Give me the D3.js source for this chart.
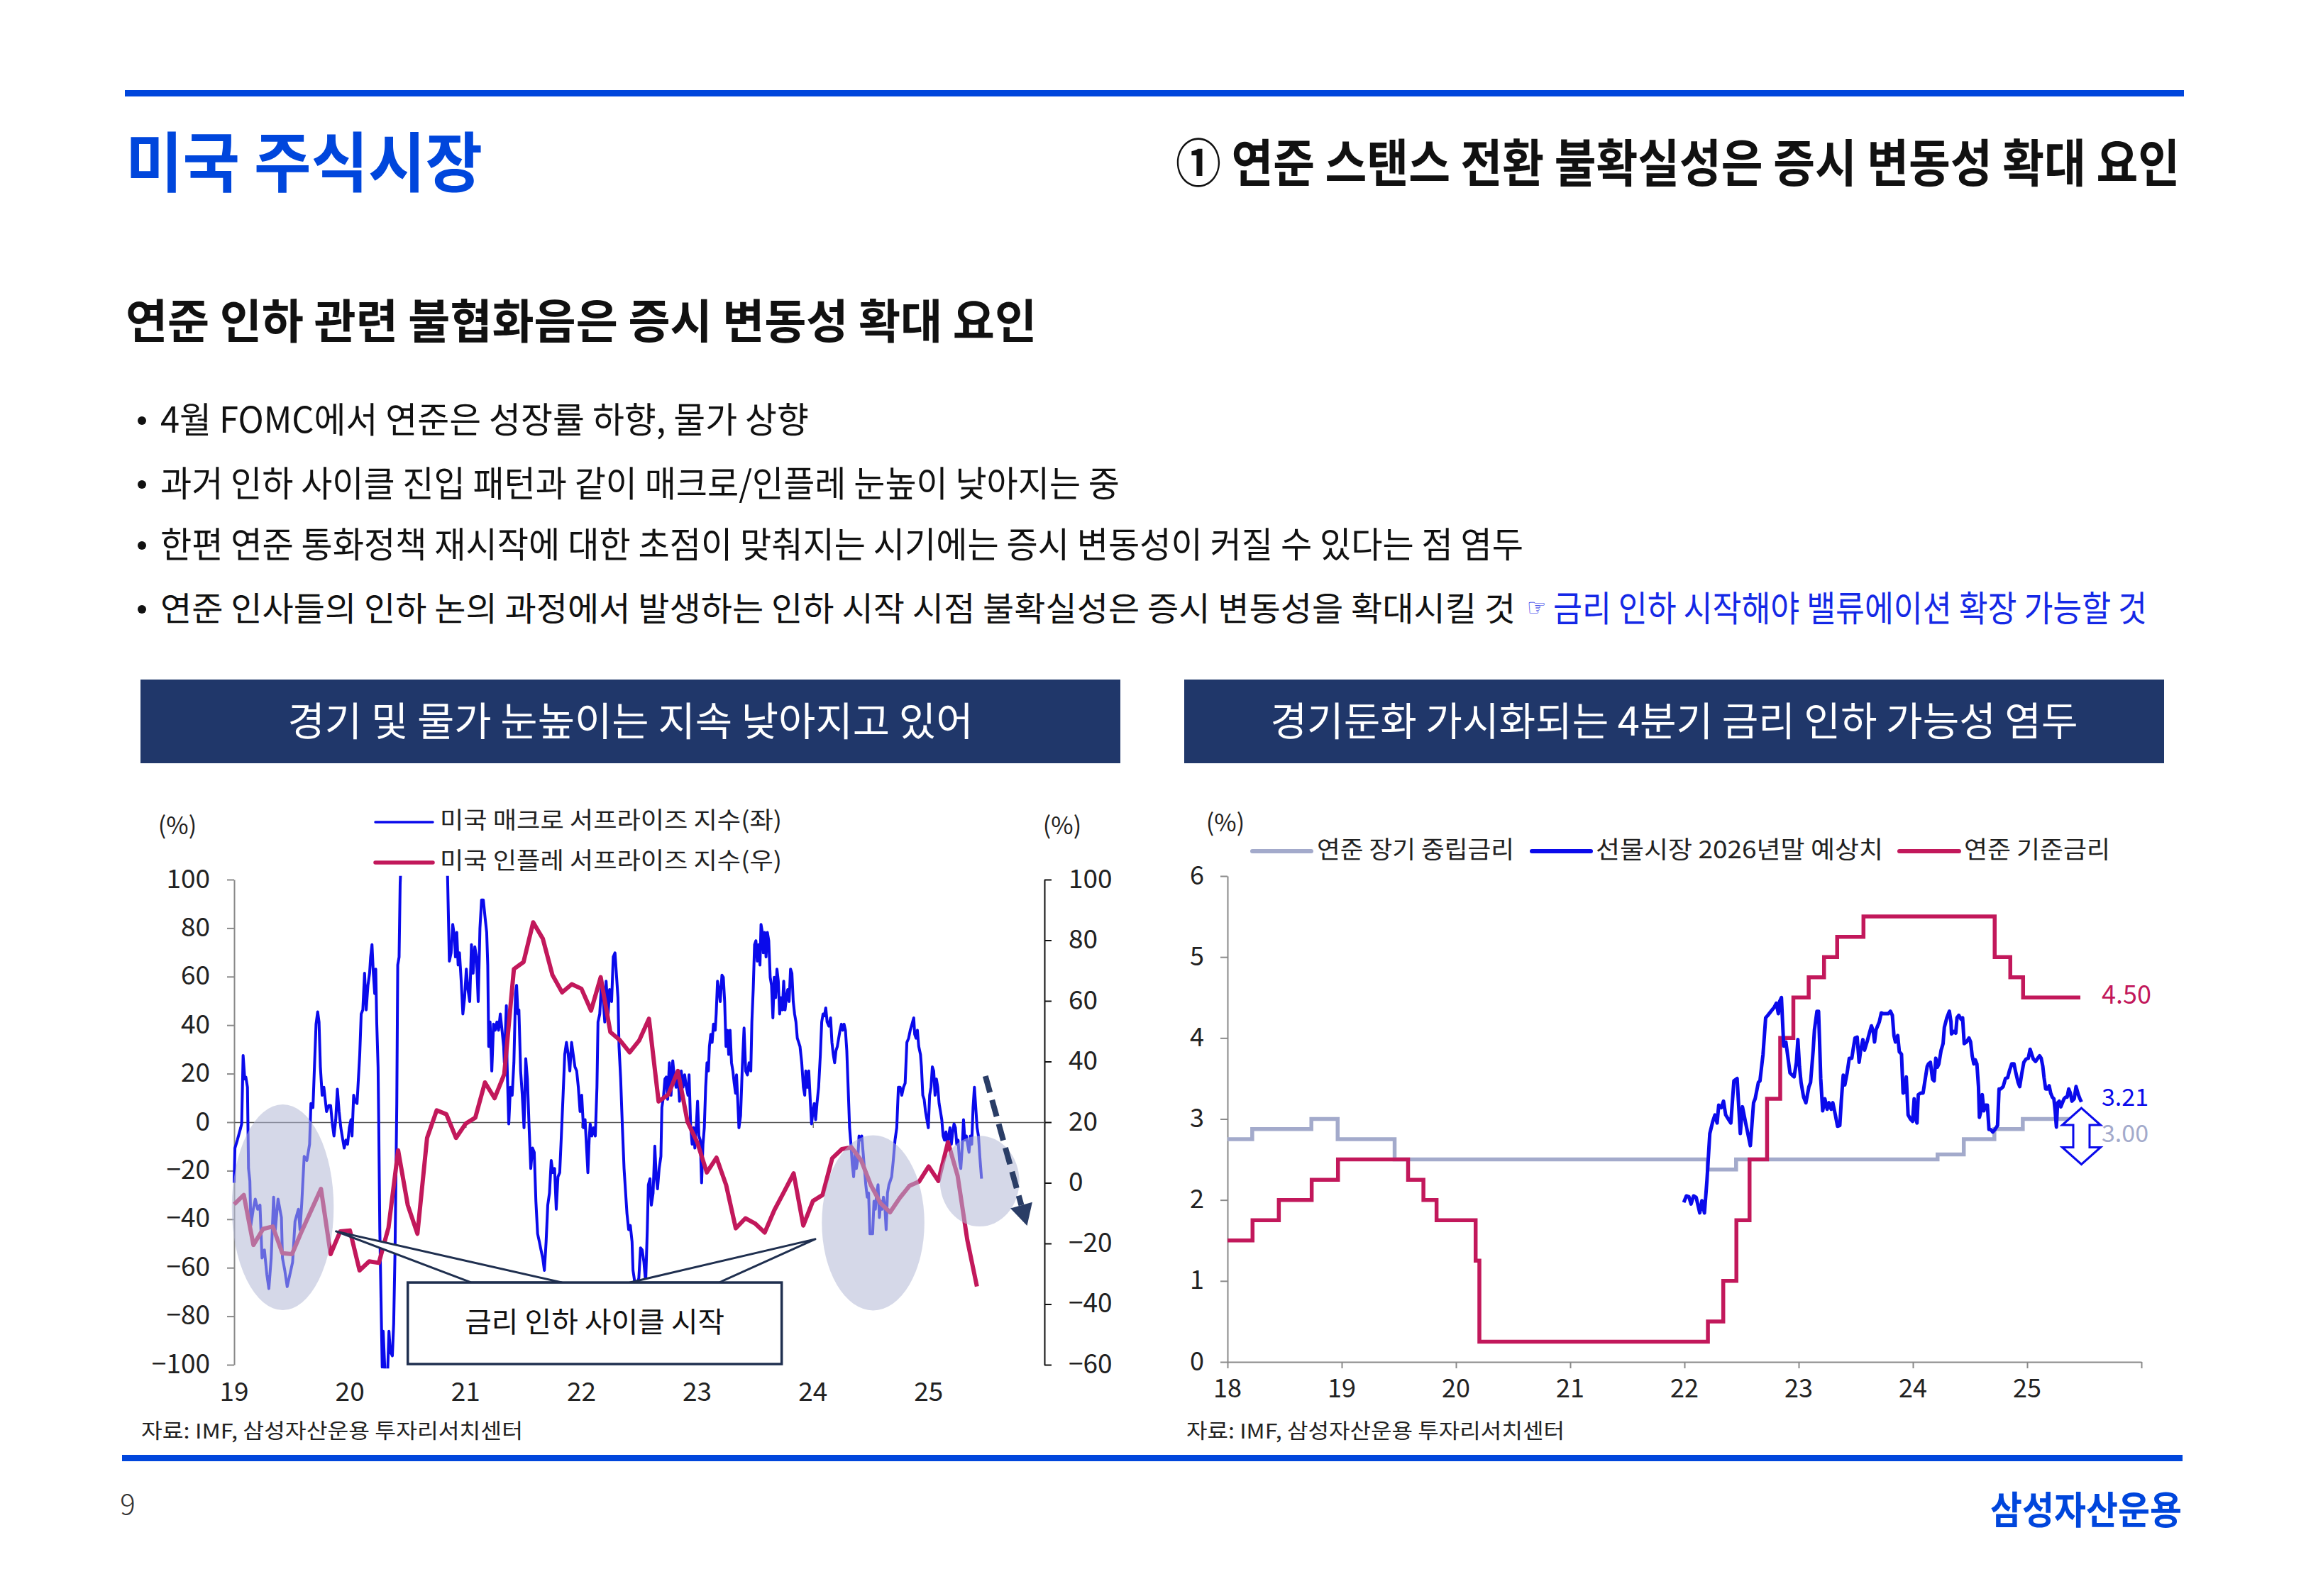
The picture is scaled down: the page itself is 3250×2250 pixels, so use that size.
<!DOCTYPE html>
<html><head><meta charset="utf-8">
<script src="https://cdn.jsdelivr.net/npm/d3@7"></script>
<style>body{margin:0;background:#fff}svg{display:block}</style>
</head><body>
<svg id="c" width="3250" height="2250"></svg>
<script>
// ===================== DATA =====================
// Chart 1 (left): surprise indices
const c1YearTicks = [2019, 2020, 2021, 2022, 2023, 2024, 2025];
const c1YearLabels = ["19", "20", "21", "22", "23", "24", "25"];
const c1LeftTicks = [100, 80, 60, 40, 20, 0, -20, -40, -60, -80, -100];
const c1RightTicks = [100, 80, 60, 40, 20, 0, -20, -40, -60];
// US inflation surprise index (right axis), monthly from Jan 2019
const inflationSurprise = [
  -7.1, -4, -20.5, -15.2, -14.4, -23.2, -23.5, -16, -9, -2, -23.5, -16,
  -15.7, -28.9, -25.9, -26.4, -14.8, 10.7, -7.4, -16.8, 14.8, 23.9, 22.6, 14.8,
  19.5, 21.5, 33.1, 27.9, 35.8, 70.5, 72.8, 85.9, 80.5, 68.5, 62.8, 65.5,
  64, 56.8, 67.8, 49.7, 47, 43, 47, 54.1, 26.8, 29.1, 36.9, 20.1,
  13.4, 3.4, 8.3, -0.7, -15, -11.7, -13.4, -16.4, -9, -3, 3.1, -14.1,
  -6, -4, 8.1, 11.1, 11.7, 7.4, -0.7, -6.7, -9.7, -5, -1, 0.4,
  5.4, 0.6, 13.4, 2.3, -18.8, -34.2
];
// US macro surprise index (left axis): [months since Jan 2019, value]
const macroSurprise = [
  [0,-25],[0.08,-10.7],[0.33,-7.4],[0.68,-2.3],[0.78,-0.7],[0.93,27.5],[1.1,17.8],[1.21,18.6],[1.38,14.4],[1.49,-19.1],
  [1.63,-24.2],[1.73,-42.6],[1.98,-35.9],[2.19,-31.7],[2.44,-35.9],[2.68,-34.2],[2.89,-56],[3.14,-52.7],[3.39,-62.8],[3.6,-68.6],
  [3.84,-56],[4.09,-30.9],[4.27,-44.3],[4.55,-31.7],[4.9,-39.3],[5.01,-56],[5.25,-61.1],[5.5,-67.8],[5.78,-62.8],[6.06,-57.7],
  [6.31,-40.9],[6.66,-35.9],[6.83,-44.3],[7.01,-33.4],[7.26,-14.1],[7.54,-15.8],[7.82,-9.1],[7.96,7.7],[8.17,6],[8.31,21.1],
  [8.49,40.4],[8.66,45.5],[8.8,41.3],[8.94,22.8],[9.12,11.1],[9.3,14.4],[9.58,4.4],[9.82,6.9],[10,6.9],[10.18,-0.7],
  [10.35,-5.7],[10.53,1],[10.7,13.6],[10.88,4.4],[11.06,-2.3],[11.23,-6.5],[11.41,-10.7],[11.58,-7.4],[11.76,-9.1],[11.94,-2.3],
  [12.11,1],[12.22,-5.7],[12.39,11.1],[12.53,8.6],[12.74,7.7],[12.88,17.8],[13.02,27.9],[13.17,44.6],[13.34,46.3],[13.52,61.4],
  [13.69,46.3],[13.87,56.4],[14.04,61.4],[14.15,68.1],[14.29,73.2],[14.43,61.4],[14.57,53],[14.68,63.1],[14.78,41.3],[14.92,22.8],
  [14.99,-0.7],[15.1,-44.3],[15.21,-69.5],[15.35,-101],[15.45,-86.2],[15.63,-103],[15.91,-103],[16.05,-86.2],[16.19,-94.6],[16.4,-96.3],
  [16.54,-82.9],[16.68,-52.7],[16.86,7.7],[16.96,64.8],[17.1,68.1],[17.21,98.3],[17.39,115],[17.6,140],[21.9,140],[22.14,98.3],
  [22.31,66.4],[22.49,69.8],[22.66,81.5],[22.84,76.5],[22.94,68.1],[23.08,78.2],[23.22,64.8],[23.36,69.8],[23.54,58.1],[23.71,44.6],
  [23.89,51.3],[24.07,63.1],[24.24,54.7],[24.42,49.7],[24.6,73.2],[24.77,61.4],[24.95,72.3],[25.12,68.1],[25.3,49.7],[25.48,79.9],
  [25.65,91.6],[25.83,91.6],[26,84.9],[26.18,78.2],[26.29,64.8],[26.39,31.2],[26.53,41.3],[26.71,21.1],[26.89,40.4],[27.06,37.9],
  [27.24,41.3],[27.41,37.9],[27.59,44.6],[27.77,37.9],[27.94,31.2],[28.01,24.5],[28.22,48],[28.29,24.5],[28.47,-0.7],[28.64,14.4],
  [28.82,11.1],[29,24.5],[29.17,53],[29.28,56.4],[29.42,44.6],[29.52,46.3],[29.7,21.1],[29.87,11.1],[30.05,-2.3],[30.23,26.2],
  [30.4,17.8],[30.58,-2.3],[30.75,-19.1],[30.93,-10.7],[31.11,-12.4],[31.28,-32.6],[31.46,-46],[31.64,-49.3],[31.81,-52.7],[31.99,-56],
  [32.16,-61.1],[32.34,-49.3],[32.51,-34.2],[32.69,-29.2],[32.87,-15.8],[33.04,-20.8],[33.22,-19.1],[33.39,-35.9],[33.57,-22.5],[33.75,-20.8],
  [33.92,-5.7],[34.1,11.1],[34.27,27.9],[34.45,32.9],[34.63,27.9],[34.8,21.1],[34.98,32.9],[35.15,27.9],[35.33,22.8],[35.51,21.1],
  [35.68,14.4],[35.86,4.4],[36.03,11.1],[36.21,-2.3],[36.38,1],[36.56,-12.4],[36.67,-20.8],[36.8,-7.4],[36.91,-0.7],[37.08,-5.7],
  [37.26,-2.3],[37.44,-5.7],[37.61,14.4],[37.72,41.3],[37.9,44.6],[38.07,56.4],[38.25,51.3],[38.42,41.3],[38.56,58.1],[38.77,44.6],
  [38.92,54.7],[39.13,49.7],[39.3,68.1],[39.48,69.8],[39.65,59.7],[39.79,51.3],[39.9,31.2],[40.07,17.8],[40.25,-2.3],[40.42,-19.1],
  [40.72,-37.6],[40.9,-44.3],[41.07,-42.6],[41.25,-49.3],[41.35,-61.1],[41.6,-67.8],[41.95,-64.4],[42.13,-51.8],[42.3,-52.7],[42.48,-57.7],
  [42.66,-66.1],[42.83,-44.3],[42.94,-25.8],[43.11,-23.3],[43.25,-34.2],[43.43,-29.2],[43.61,-9.9],[43.75,-22.5],[43.89,-27.5],[44.06,-19.1],
  [44.24,-14.1],[44.34,6],[44.52,11.1],[44.66,17.8],[44.8,18.6],[44.94,9.4],[45.12,24.5],[45.29,11.1],[45.47,25.3],[45.65,17.8],
  [45.82,14.4],[46,20.3],[46.17,8.6],[46.35,21.1],[46.53,14.4],[46.7,19.5],[46.88,14.4],[47.05,11.1],[47.16,19.5],[47.33,-2.3],
  [47.48,-9.1],[47.62,-2.3],[47.76,-10.7],[47.9,-2.3],[48.04,8.6],[48.18,-5.7],[48.32,-7.4],[48.46,-25],[48.6,-9.1],[48.74,-2.3],
  [48.88,14.4],[49.02,24.5],[49.16,21.1],[49.27,31.2],[49.41,36.2],[49.55,32.9],[49.69,40.4],[49.87,37.9],[49.97,44.6],[50.11,58.1],
  [50.25,54.7],[50.39,49.7],[50.57,60.6],[50.71,59.7],[50.85,49.7],[50.99,31.2],[51.13,37.9],[51.27,27.9],[51.41,37.9],[51.56,24.5],
  [51.7,21.1],[51.84,16.1],[51.98,11.9],[52.08,19.5],[52.22,7.7],[52.33,-2.3],[52.5,2.7],[52.68,22.8],[52.86,38.8],[53.03,21.1],
  [53.21,19.5],[53.38,24.5],[53.56,21.1],[53.67,41.3],[53.81,54.7],[53.95,73.2],[54.09,74.8],[54.23,66.4],[54.37,73.2],[54.51,64.8],
  [54.62,81.5],[54.76,78.2],[54.86,69.8],[55,78.2],[55.14,68.1],[55.28,78.2],[55.42,74.8],[55.57,59.7],[55.71,56.4],[55.85,43],
  [55.99,59.7],[56.13,51.3],[56.27,63.1],[56.41,58.1],[56.55,44.6],[56.69,51.3],[56.83,46.3],[56.97,58.1],[57.11,46.3],[57.25,51.3],
  [57.39,54.7],[57.53,49.7],[57.68,63.1],[57.82,61.4],[57.96,49.7],[58.1,44.6],[58.24,41.3],[58.38,34.6],[58.52,32.9],[58.66,31.2],
  [58.84,24.5],[59.01,14.4],[59.15,11.1],[59.26,21.1],[59.43,14.4],[59.57,21.1],[59.72,9.4],[59.86,-0.7],[60,4.4],[60.14,7.7],
  [60.28,1],[60.42,7.7],[60.59,14.4],[60.77,27.9],[60.91,41.3],[61.05,44.6],[61.19,43.8],[61.33,47.1],[61.47,41.3],[61.65,39.6],
  [61.83,43],[61.97,32.9],[62.11,27.9],[62.25,24.5],[62.39,29.5],[62.53,31.2],[62.67,34.6],[62.81,37.9],[62.95,40.4],[63.09,37.9],
  [63.23,40.4],[63.37,37.9],[63.51,29.5],[63.65,14.4],[63.8,-2.3],[63.94,-9.1],[64.08,-17.4],[64.22,-22.5],[64.36,-12.4],[64.5,-19.1],
  [64.64,-15.8],[64.78,-5.7],[64.92,-7.4],[65.06,-5.7],[65.2,-12.4],[65.34,-19.1],[65.48,-25.8],[65.63,-30.9],[65.77,-29.2],[65.91,-46],
  [66.05,-46],[66.19,-46],[66.33,-32.6],[66.47,-35.9],[66.61,-29.2],[66.75,-25.8],[66.89,-39.3],[67.03,-32.6],[67.17,-35.9],[67.31,-30.9],
  [67.45,-34.2],[67.59,-44.3],[67.73,-29.2],[67.88,-25.8],[68.02,-24.2],[68.16,-22.5],[68.33,-15.8],[68.51,-7.4],[68.69,-2.3],[68.86,14.4],
  [69.04,14.4],[69.21,11.1],[69.39,14.4],[69.56,16.1],[69.74,32.9],[69.92,34.6],[70.09,37.9],[70.27,40.4],[70.45,43],[70.55,36.2],
  [70.69,34.6],[70.83,37.9],[70.97,31.2],[71.15,27.9],[71.25,22.8],[71.39,11.1],[71.53,9.4],[71.67,4.4],[71.82,1],[71.96,-2.3],
  [72.1,11.1],[72.24,14.4],[72.38,22.8],[72.52,21.1],[72.66,11.1],[72.8,17.8],[72.94,14.4],[73.08,7.7],[73.22,4.4],[73.36,1],
  [73.5,-5.7],[73.64,-7.4],[73.79,-4],[73.93,-9.1],[74.07,-5.7],[74.21,-2.3],[74.35,-9.1],[74.49,-4],[74.63,-0.7],[74.77,-2.3],
  [74.91,-9.1],[75.05,-7.4],[75.19,-15.8],[75.33,-19.1],[75.47,-10.7],[75.61,1],[75.75,-7.4],[75.9,-5.7],[76.04,-9.1],[76.18,-12.4],
  [76.32,-5.7],[76.46,-9.1],[76.6,6],[76.74,14.4],[76.88,6],[77.02,-2.3],[77.16,-5.7],[77.3,-14.1],[77.48,-23.3]
];

// Chart 2 (right): policy rates
const c2YearTicks = [2018, 2019, 2020, 2021, 2022, 2023, 2024, 2025, 2026];
const c2YearLabels = ["18", "19", "20", "21", "22", "23", "24", "25"];
const c2YTicks = [0, 1, 2, 3, 4, 5, 6];
// Fed longer-run neutral rate (step changes)
const neutralRate = [
  ["2018-01-01",2.75],["2018-03-21",2.875],["2018-09-26",3.0],["2018-12-19",2.75],["2019-06-19",2.5],
  ["2022-03-16",2.375],["2022-06-15",2.5],["2024-03-20",2.5625],["2024-06-12",2.75],["2024-09-18",2.875],
  ["2024-12-18",3.0],["2025-06-20",3.0]
];
// Fed funds target rate (upper bound, step changes)
const fedFunds = [
  ["2018-01-01",1.5],["2018-03-22",1.75],["2018-06-14",2.0],["2018-09-27",2.25],["2018-12-20",2.5],
  ["2019-08-01",2.25],["2019-09-19",2.0],["2019-10-31",1.75],["2020-03-04",1.25],["2020-03-16",0.25],
  ["2022-03-17",0.5],["2022-05-05",1.0],["2022-06-16",1.75],["2022-07-28",2.5],["2022-09-22",3.25],
  ["2022-11-03",4.0],["2022-12-15",4.5],["2023-02-02",4.75],["2023-03-23",5.0],["2023-05-04",5.25],
  ["2023-07-27",5.5],["2024-09-19",5.0],["2024-11-08",4.75],["2024-12-19",4.5],["2025-06-20",4.5]
];
// Futures-implied rate for end-2026: [decimal year, value]
const futures2026 = [
  [2021.994,1.97],[2022.017,2.05],[2022.039,2.04],[2022.058,1.95],[2022.08,2.05],[2022.103,2.03],[2022.134,1.84],[2022.153,1.99],
  [2022.175,1.84],[2022.197,2.24],[2022.222,2.82],[2022.248,2.97],[2022.267,3.05],[2022.286,2.95],[2022.3,3.17],[2022.322,3.14],
  [2022.342,3.22],[2022.361,3.05],[2022.383,3.0],[2022.406,2.95],[2022.433,3.47],[2022.461,3.5],[2022.489,2.82],[2022.508,3.15],
  [2022.536,2.95],[2022.577,2.67],[2022.605,3.2],[2022.619,3.25],[2022.647,3.45],[2022.661,3.47],[2022.688,3.8],[2022.711,4.25],
  [2022.73,4.28],[2022.758,4.33],[2022.786,4.38],[2022.805,4.43],[2022.822,4.3],[2022.833,4.45],[2022.849,4.5],[2022.869,3.9],
  [2022.888,3.95],[2022.924,3.57],[2022.944,3.54],[2022.96,3.52],[2022.98,3.7],[2022.993,3.98],[2023.007,3.65],[2023.021,3.45],
  [2023.043,3.27],[2023.063,3.2],[2023.09,3.4],[2023.104,3.45],[2023.127,3.85],[2023.138,4.1],[2023.16,4.33],[2023.174,4.33],
  [2023.182,4.0],[2023.193,3.5],[2023.21,3.1],[2023.229,3.25],[2023.249,3.12],[2023.265,3.2],[2023.285,3.12],[2023.299,3.2],
  [2023.321,3.05],[2023.34,2.91],[2023.36,2.92],[2023.373,3.22],[2023.39,3.54],[2023.404,3.42],[2023.423,3.56],[2023.443,3.75],
  [2023.465,3.75],[2023.479,3.88],[2023.493,4.0],[2023.512,4.01],[2023.529,3.7],[2023.543,3.85],[2023.562,3.98],[2023.576,3.85],
  [2023.598,3.95],[2023.617,4.05],[2023.637,4.15],[2023.653,4.08],[2023.664,3.95],[2023.677,4.1],[2023.706,4.2],[2023.723,4.31],
  [2023.742,4.3],[2023.764,4.3],[2023.784,4.3],[2023.803,4.33],[2023.82,4.28],[2023.834,4.03],[2023.847,3.95],[2023.867,4.03],
  [2023.881,3.83],[2023.9,3.8],[2023.914,3.32],[2023.931,3.34],[2023.942,3.52],[2023.958,3.05],[2023.978,3.0],[2023.997,2.97],
  [2024.011,3.25],[2024.025,3.0],[2024.036,2.95],[2024.047,3.3],[2024.069,3.32],[2024.089,3.32],[2024.103,3.45],[2024.125,3.65],
  [2024.136,3.68],[2024.153,3.7],[2024.172,3.49],[2024.186,3.47],[2024.2,3.75],[2024.214,3.64],[2024.227,3.68],[2024.247,3.85],
  [2024.264,3.93],[2024.275,4.13],[2024.297,4.25],[2024.319,4.33],[2024.333,4.2],[2024.338,4.05],[2024.358,4.08],[2024.375,4.06],
  [2024.386,4.25],[2024.402,4.28],[2024.422,4.23],[2024.435,4.25],[2024.449,3.93],[2024.469,3.95],[2024.491,4.0],[2024.505,3.95],
  [2024.519,3.78],[2024.533,3.68],[2024.546,3.73],[2024.56,3.68],[2024.574,3.4],[2024.582,3.02],[2024.596,3.1],[2024.607,3.3],
  [2024.621,3.1],[2024.635,3.17],[2024.652,3.17],[2024.666,2.87],[2024.68,2.87],[2024.699,2.84],[2024.718,2.87],[2024.741,2.92],
  [2024.754,3.37],[2024.768,3.37],[2024.79,3.4],[2024.81,3.5],[2024.829,3.51],[2024.846,3.6],[2024.865,3.68],[2024.885,3.68],
  [2024.901,3.57],[2024.921,3.45],[2024.935,3.4],[2024.954,3.57],[2024.971,3.7],[2024.99,3.74],[2025.01,3.75],[2025.026,3.86],
  [2025.04,3.8],[2025.054,3.74],[2025.073,3.71],[2025.093,3.75],[2025.109,3.78],[2025.123,3.75],[2025.137,3.65],[2025.148,3.51],
  [2025.162,3.37],[2025.179,3.37],[2025.193,3.41],[2025.206,3.32],[2025.22,3.27],[2025.234,3.25],[2025.245,3.1],[2025.256,2.9],
  [2025.267,3.2],[2025.281,3.22],[2025.295,3.15],[2025.309,3.2],[2025.323,3.25],[2025.337,3.27],[2025.35,3.27],[2025.364,3.37],
  [2025.378,3.32],[2025.392,3.22],[2025.412,3.25],[2025.428,3.4],[2025.448,3.3],[2025.462,3.25],[2025.475,3.21]
];
const endLabels = ["4.50", "3.21", "3.00"];

// ===================== DRAW =====================
const svg = d3.select("#c");
const FONT = '"Noto Sans CJK KR","Noto Sans",sans-serif';
const BLUE = "#0A0AEB", RED = "#C2185B", GRAY = "#A3AACB", NAVY = "#20376A", BRAND = "#0046DC";
const DY = -5; // optical correction for central baseline

function T(x, y, s, o = {}) {
  const size = o.size || 36;
  const t = svg.append("text").attr("x", x).attr("y", y + DY)
    .attr("dominant-baseline", "central")
    .attr("font-family", o.family || FONT)
    .attr("font-size", size)
    .attr("font-weight", o.weight || 400)
    .attr("fill", o.fill || "#111")
    .attr("text-anchor", o.anchor || "start")
    .text(s);
  if (o.len) {
    if (o.fit) { // shrink font so the natural width never exceeds the target box
      const n = t.node().getComputedTextLength();
      if (n > o.len) t.attr("font-size", size * o.len / n * 0.98);
    }
    t.attr("textLength", o.len).attr("lengthAdjust", "spacingAndGlyphs");
  }
  return t;
}
const decYear = s => { const d = new Date(s + "T00:00:00Z"); const y = d.getUTCFullYear();
  const a = Date.UTC(y,0,1), b = Date.UTC(y+1,0,1); return y + (d - a) / (b - a); };
const fmtMinus = d => d < 0 ? "\u2212" + Math.abs(d) : String(d);

// ---- Page header ----
svg.append("rect").attr("x", 176).attr("y", 127).attr("width", 2902).attr("height", 9).attr("fill", BRAND);
T(177, 227, "미국 주식시장", {size: 92, weight: 700, fill: BRAND, len: 503});
T(1657, 229, "① 연준 스탠스 전환 불확실성은 증시 변동성 확대 요인", {size: 72, weight: 700, fill: "#111", len: 1415});
T(177, 453, "연준 인하 관련 불협화음은 증시 변동성 확대 요인", {size: 66, weight: 700, fill: "#111", len: 1284});

const bulletY = [593, 683, 769, 859];
const bulletText = [
  "4월 FOMC에서 연준은 성장률 하향, 물가 상향",
  "과거 인하 사이클 진입 패턴과 같이 매크로/인플레 눈높이 낮아지는 중",
  "한편 연준 통화정책 재시작에 대한 초점이 맞춰지는 시기에는 증시 변동성이 커질 수 있다는 점 염두",
  "연준 인사들의 인하 논의 과정에서 발생하는 인하 시작 시점 불확실성은 증시 변동성을 확대시킬 것"
];
const bulletLen = [914, 1352, 1921, 1910];
bulletY.forEach((y, i) => {
  svg.append("circle").attr("cx", 200).attr("cy", y).attr("r", 6).attr("fill", "#111");
  T(226, y, bulletText[i], {size: 50, fill: "#111", len: bulletLen[i], fit: i === 3});
});
{
  const t = T(2152, bulletY[3], "", {size: 50, fill: "#1428E6"});
  t.append("tspan").attr("font-family", '"DejaVu Sans",sans-serif').attr("font-size", 34).attr("dy", 2).text("☞");
  t.append("tspan").attr("dy", -2).text(" 금리 인하 시작해야 밸류에이션 확장 가능할 것");
  t.attr("textLength", 874).attr("lengthAdjust", "spacingAndGlyphs");
}

// Chart header boxes
svg.append("rect").attr("x", 198).attr("y", 958).attr("width", 1381).attr("height", 118).attr("fill", NAVY);
svg.append("rect").attr("x", 1669).attr("y", 958).attr("width", 1381).attr("height", 118).attr("fill", NAVY);
T(888.5 - 483, 1017, "경기 및 물가 눈높이는 지속 낮아지고 있어", {size: 56, fill: "#fff", len: 966});
T(2359.5 - 569, 1017, "경기둔화 가시화되는 4분기 금리 인하 가능성 염두", {size: 56, fill: "#fff", len: 1138});

// Footer
T(199, 2020, "자료: IMF, 삼성자산운용 투자리서치센터", {size: 29, fill: "#222", len: 538});
T(1672, 2020, "자료: IMF, 삼성자산운용 투자리서치센터", {size: 29, fill: "#222", len: 533});
svg.append("rect").attr("x", 172).attr("y", 2051).attr("width", 2904).attr("height", 9).attr("fill", BRAND);
T(180, 2123, "9", {size: 40, weight: 300, anchor: "middle", fill: "#333"});
T(2805, 2130, "삼성자산운용", {size: 54, weight: 700, fill: BRAND, len: 270});

// ===================== CHART 1 =====================
const x1 = d3.scaleLinear().domain([2019, 2026]).range([330, 1472]);
const yL = d3.scaleLinear().domain([-100, 100]).range([1924, 1240]);
const yR = d3.scaleLinear().domain([-60, 100]).range([1924, 1240]);

function styleAxis(g, color, size) {
  g.select(".domain").attr("stroke", color).attr("stroke-width", 2);
  g.selectAll(".tick line").attr("stroke", color).attr("stroke-width", 2);
  g.selectAll(".tick text").attr("font-size", size).attr("font-family", FONT).attr("fill", "#222")
    .attr("dy", DY).attr("dominant-baseline", "central");
}
const gL = svg.append("g").attr("transform", `translate(${x1(2019)},0)`)
  .call(d3.axisLeft(yL).tickValues(c1LeftTicks).tickSize(10).tickSizeOuter(0).tickPadding(24).tickFormat(fmtMinus));
styleAxis(gL, "#8a8a8a", 37);
const gR = svg.append("g").attr("transform", `translate(${x1(2026)},0)`)
  .call(d3.axisRight(yR).tickValues(c1RightTicks).tickSize(10).tickSizeOuter(0).tickPadding(24).tickFormat(fmtMinus));
styleAxis(gR, "#111", 37);
const gZ = svg.append("g").attr("transform", `translate(0,${yL(0)})`)
  .call(d3.axisBottom(x1).tickValues(c1YearTicks.slice(1)).tickSize(8).tickSizeOuter(0).tickFormat(""));
gZ.select(".domain").attr("stroke", "#555").attr("stroke-width", 1.5);
gZ.selectAll(".tick line").attr("stroke", "#777").attr("stroke-width", 1.5);
c1YearTicks.forEach((yr, i) => T(x1(yr), 1964, c1YearLabels[i], {size: 37, anchor: "middle", fill: "#222"}));
T(250, 1166, "(%)", {size: 34, anchor: "middle", fill: "#222"});
T(1497, 1166, "(%)", {size: 34, anchor: "middle", fill: "#222"});

svg.append("clipPath").attr("id", "clip1").append("rect")
  .attr("x", 320).attr("y", yL(101.5)).attr("width", 1160).attr("height", yL(-101.5) - yL(101.5));
svg.append("path").datum(macroSurprise)
  .attr("clip-path", "url(#clip1)")
  .attr("d", d3.line().x(d => x1(2019 + d[0] / 12)).y(d => yL(d[1])))
  .attr("fill", "none").attr("stroke", BLUE).attr("stroke-width", 4).attr("stroke-linejoin", "round");
svg.append("path").datum(inflationSurprise)
  .attr("d", d3.line().x((d, i) => x1(2019 + i / 12)).y(d => yR(d)))
  .attr("fill", "none").attr("stroke", RED).attr("stroke-width", 6).attr("stroke-linejoin", "round");

// highlight ellipses (in data units)
const ellipses = [[2019.42, -35.1, 0.44, 42.4], [2024.52, -41.5, 0.443, 36.1], [2025.44, -24.3, 0.343, 18.7]];
ellipses.forEach(e => {
  svg.append("ellipse").attr("cx", x1(e[0])).attr("cy", yL(e[1]))
    .attr("rx", x1(e[0] + e[2]) - x1(e[0])).attr("ry", yL(e[1] - e[3]) - yL(e[1]))
    .attr("fill", "rgb(178,184,214)").attr("opacity", 0.55);
});

// callout
const CALLNAVY = "#1F2F4F";
const callouts = [[[2019.88, -45.0], 2021.05, 2021.83], [[2024.02, -48.2], 2022.42, 2023.19]];
const boxTop = yL(-66.1), boxBot = yL(-99.7), boxL = x1(2020.5), boxR = x1(2023.73);
callouts.forEach(c => {
  svg.append("polygon")
    .attr("points", [[x1(c[0][0]), yL(c[0][1])], [x1(c[1]), boxTop], [x1(c[2]), boxTop]].map(p => p.join(",")).join(" "))
    .attr("fill", "#fff").attr("stroke", CALLNAVY).attr("stroke-width", 3).attr("stroke-linejoin", "round");
});
svg.append("rect").attr("x", boxL).attr("y", boxTop).attr("width", boxR - boxL).attr("height", boxBot - boxTop)
  .attr("fill", "#fff").attr("stroke", CALLNAVY).attr("stroke-width", 3.5);
T((boxL + boxR) / 2 - 183, (boxTop + boxBot) / 2, "금리 인하 사이클 시작", {size: 40, fill: "#111", len: 366});

// dashed arrow
{
  const sx = x1(2025.49), sy = yL(19.0), tx = x1(2025.85), ty = yL(-42.7);
  const dx = tx - sx, dy = ty - sy, L = Math.hypot(dx, dy), ux = dx / L, uy = dy / L;
  const hl = 30, hw = 16, bx = tx - ux * hl, by = ty - uy * hl;
  svg.append("line").attr("x1", sx).attr("y1", sy).attr("x2", bx).attr("y2", by)
    .attr("stroke", "#2A3D66").attr("stroke-width", 8).attr("stroke-dasharray", "24 11");
  svg.append("polygon").attr("points", [[tx, ty], [bx - uy * hw, by + ux * hw], [bx + uy * hw, by - ux * hw]].map(p => p.join(",")).join(" "))
    .attr("fill", "#2A3D66");
}

// legend chart 1
svg.append("line").attr("x1", 529).attr("x2", 610).attr("y1", 1159).attr("y2", 1159).attr("stroke", BLUE).attr("stroke-width", 3.5).attr("stroke-linecap", "round");
svg.append("line").attr("x1", 529).attr("x2", 610).attr("y1", 1216).attr("y2", 1216).attr("stroke", RED).attr("stroke-width", 5.5).attr("stroke-linecap", "round");
T(620, 1159, "미국 매크로 서프라이즈 지수(좌)", {size: 33, fill: "#222", len: 482});
T(620, 1216, "미국 인플레 서프라이즈 지수(우)", {size: 33, fill: "#222", len: 482});

// ===================== CHART 2 =====================
const x2 = d3.scaleLinear().domain([2018, 2026]).range([1730, 3018]);
const y2 = d3.scaleLinear().domain([0, 6]).range([1920, 1235]);

const g2L = svg.append("g").attr("transform", `translate(${x2(2018)},0)`)
  .call(d3.axisLeft(y2).tickValues(c2YTicks).tickSize(10).tickSizeOuter(0).tickPadding(23).tickFormat(d3.format("d")));
styleAxis(g2L, "#8a8a8a", 36);
const g2B = svg.append("g").attr("transform", `translate(0,${y2(0)})`)
  .call(d3.axisBottom(x2).tickValues(c2YearTicks).tickSize(9).tickSizeOuter(0).tickFormat(""));
g2B.select(".domain").attr("stroke", "#8a8a8a").attr("stroke-width", 2);
g2B.selectAll(".tick line").attr("stroke", "#8a8a8a").attr("stroke-width", 2);
c2YearLabels.forEach((lab, i) => T(x2(c2YearTicks[i]), 1959, lab, {size: 36, anchor: "middle", fill: "#222"}));
T(1727, 1162, "(%)", {size: 34, anchor: "middle", fill: "#222"});

const stepLine = d3.line().x(d => x2(decYear(d[0]))).y(d => y2(d[1])).curve(d3.curveStepAfter);
svg.append("path").datum(neutralRate).attr("d", stepLine)
  .attr("fill", "none").attr("stroke", GRAY).attr("stroke-width", 5.5);
svg.append("path").datum(fedFunds).attr("d", stepLine)
  .attr("fill", "none").attr("stroke", RED).attr("stroke-width", 5.5);
svg.append("path").datum(futures2026)
  .attr("d", d3.line().x(d => x2(d[0])).y(d => y2(d[1])))
  .attr("fill", "none").attr("stroke", BLUE).attr("stroke-width", 5).attr("stroke-linejoin", "round");

// end labels
const lastFF = fedFunds[fedFunds.length - 1][1];
const lastFut = futures2026[futures2026.length - 1];
const lastNeutral = neutralRate[neutralRate.length - 1][1];
T(2962, y2(lastFF) - 2, endLabels[0], {size: 36, fill: RED});
T(2962, y2(lastFut[1]) - 4, endLabels[1], {size: 34, fill: BLUE});
T(2962, y2(lastNeutral) + 23, endLabels[2], {size: 34, fill: GRAY});

// double arrow (blue outline)
{
  const cx = x2(lastFut[0]);
  const top = y2(3.135), bot = y2(2.44);
  const hh = 24, hw = 27, sw = 11.5;
  const pts = [[cx, top], [cx + hw, top + hh], [cx + sw, top + hh], [cx + sw, bot - hh], [cx + hw, bot - hh], [cx, bot],
               [cx - hw, bot - hh], [cx - sw, bot - hh], [cx - sw, top + hh], [cx - hw, top + hh]];
  svg.append("polygon").attr("points", pts.map(p => p.join(",")).join(" "))
    .attr("fill", "#fff").attr("stroke", BLUE).attr("stroke-width", 3).attr("stroke-linejoin", "miter");
}

// legend chart 2
const leg2 = [[1765, 1848, GRAY, 1856, "연준 장기 중립금리", 278], [2159, 2242, BLUE, 2249, "선물시장 2026년말 예상치", 405], [2677, 2761, RED, 2768, "연준 기준금리", 206]];
leg2.forEach(l => {
  svg.append("line").attr("x1", l[0]).attr("x2", l[1]).attr("y1", 1200).attr("y2", 1200).attr("stroke", l[2]).attr("stroke-width", 6).attr("stroke-linecap", "round");
  T(l[3], 1200, l[4], {size: 34, fill: "#222", len: l[5]});
});
</script>
</body></html>
